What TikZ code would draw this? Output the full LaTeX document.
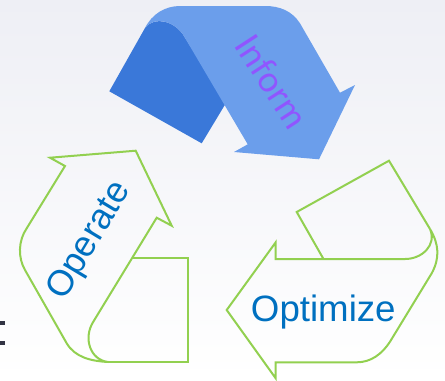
\documentclass[tikz,border=0pt]{standalone}
\usepackage{fontspec}
\setmainfont{Liberation Sans}
\newfontfamily\informfont{Lato}
\definecolor{lightband}{RGB}{107,158,235}
\definecolor{darkband}{RGB}{58,120,217}
\definecolor{greenedge}{RGB}{146,208,80}
\definecolor{labelblue}{RGB}{0,112,192}
\definecolor{labelpurple}{RGB}{144,85,255}
\definecolor{edgemark}{RGB}{50,52,68}
\tikzset{
	outlined/.style={draw=greenedge,line width=1.5pt,line join=miter,fill=none},
	bandlabel/.style={inner sep=0pt,text=labelblue},
}
\begin{document}
\begin{tikzpicture}[x=0.75pt,y=0.75pt,yscale=-1,xscale=1]
	\useasboundingbox (0,0) rectangle (445,380);
	\shade [top color={rgb,255:red,238;green,239;blue,245}, bottom color=white] (0,0) rectangle (445,380);
	% cut off mark at the left edge
	\fill [edgemark] (0,320.5) rectangle (5,324.5);
	\fill [edgemark] (0,341) rectangle (5,345);
	% Inform
	\fill [darkband] (109.3,91.3) -- (201.7,143.3) -- (226,103) -- (183.3,35) .. controls (175,22) and (155,15) .. (145,28) -- cycle ;
	\fill [lightband] (145,28) .. controls (152,14) and (165,6) .. (180,6) -- (265,6) .. controls (280,6) and (292,11) .. (300,23.3) -- (340,92.7) -- (355,85) -- (319,159.3) -- (234,152) -- (247.7,144.3) -- (183.3,35) .. controls (175,22) and (155,15) .. (145,28) -- cycle ;
	\node (inform) [inner sep=0pt,rotate=-57,text=labelpurple,font=\informfont\fontsize{26.5}{30}\selectfont] at (272,81.5) {Inform};
	% Operate
	\draw [outlined] (132.7,258.3) -- (188.3,258.3) -- (188.3,362) -- (108.3,362) ;
	\draw [outlined] (50,157.7) -- (135.7,150.7) -- (171.7,225.7) -- (156.7,217.7) -- (93.3,321.7) .. controls (83,338) and (90,360) .. (108.3,362) .. controls (90,361) and (75,357) .. (66.7,343.3) -- (25,270) .. controls (18,258) and (18,241) .. (26.7,228.3) -- (65,166) -- cycle ;
	\node (operate) [bandlabel,rotate=59,font=\fontsize{27}{30}\selectfont] at (90,241) {Operate};
	% Optimize
	\draw [outlined] (323.5,259) -- (296.7,212) -- (389,160.7) -- (430,229) ;
	\draw [outlined] (226.7,310) -- (275.7,242.3) -- (275.7,259) -- (405,259) .. controls (422,259) and (437,245) .. (430,229) .. controls (439,244) and (440,258) .. (431.7,273.3) -- (390,341.7) .. controls (382,354) and (371,362.3) .. (356.7,362.3) -- (275.7,362.3) -- (275.7,378.3) -- cycle ;
	\node (optimize) [bandlabel,font=\fontsize{27.5}{30}\selectfont] at (323.3,312) {Optimize};
\end{tikzpicture}
\end{document}
